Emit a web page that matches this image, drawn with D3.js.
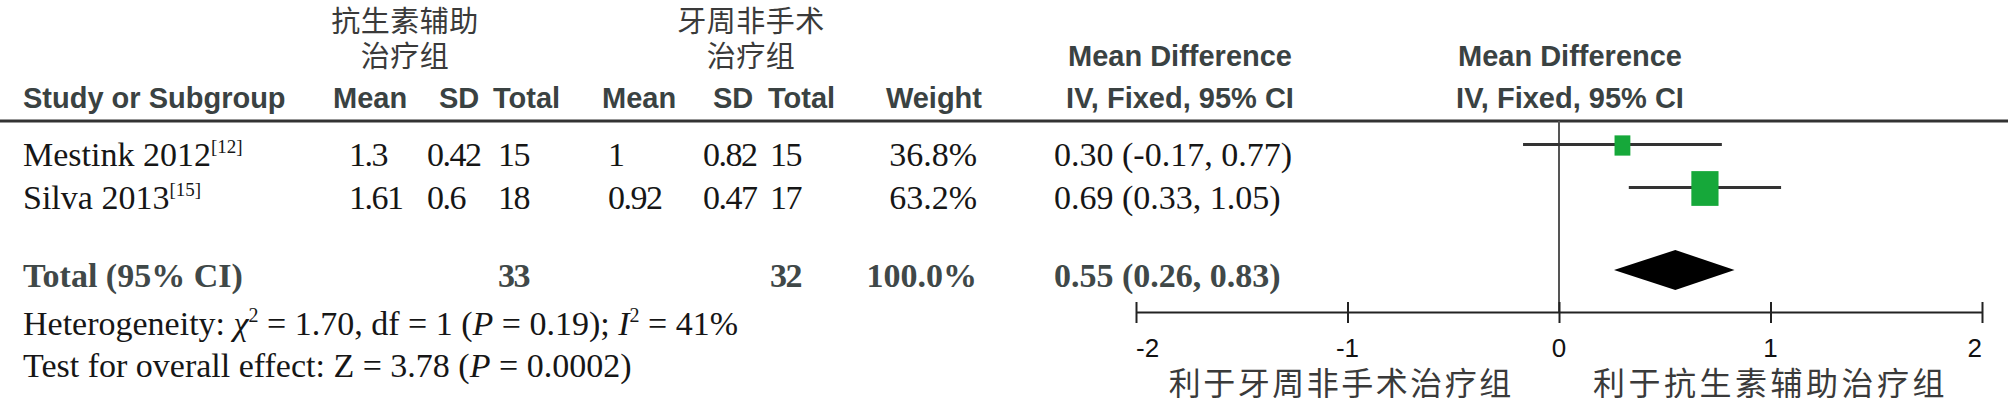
<!DOCTYPE html>
<html lang="zh">
<head>
<meta charset="utf-8">
<title>Forest plot</title>
<script src="https://cdn.jsdelivr.net/npm/d3@7"></script>
<style>
  body { margin: 0; background: #fff; }
  .hd { font-family: "Liberation Sans", Arial, sans-serif; font-weight: bold; font-size: 29px; fill: #3a4242; }
  .cn { font-family: "Noto Sans CJK SC", sans-serif; fill: #3a3a3a; }
  .bd { font-family: "Liberation Serif", "Times New Roman", serif; font-size: 34px; fill: #161616; }
  .num { letter-spacing: -1.5px; }
  .tot { font-weight: bold; fill: #404848; }
  .tl { font-family: "Liberation Sans", Arial, sans-serif; font-size: 26px; fill: #111; }
</style>
</head>
<body>
<script>
// study rows
var studies = ["Mestink 2012", "Silva 2013"];
var refs = ["[12]", "[15]"];
var expMean = [1.3, 1.61];
var expSD = [0.42, 0.6];
var expN = [15, 18];
var ctlMean = [1, 0.92];
var ctlSD = [0.82, 0.47];
var ctlN = [15, 17];
var weights = [36.8, 63.2];
var md = [0.30, 0.69];
var ciLow = [-0.17, 0.33];
var ciHigh = [0.77, 1.05];

// pooled
var totalN = [33, 32];
var totalMD = 0.55, totalLow = 0.26, totalHigh = 0.83;

var xTicks = [-2, -1, 0, 1, 2];
var xTickLabels = ["-2", "-1", "0", "1", "2"];
var favLeft = "利于牙周非手术治疗组";
var favRight = "利于抗生素辅助治疗组";

var w = 2008, h = 398;

var svg = d3.select("body").append("svg")
  .attr("width", w)
  .attr("height", h);

var x = d3.scaleLinear().domain([-2, 2]).range([1136, 1982]);
var rowY = d3.scaleLinear().domain([0, 1]).range([144.5, 187.5]);
var totalY = 270;
var axisY = 312;
var boxW = d3.scaleLinear().domain([0, 100]).range([0, 43]);
var boxH = d3.scaleLinear().domain([0, 100]).range([0, 55]);

function fmt2(v) { return d3.format(".2f")(v).replace("−", "-"); }
function ciText(m, lo, hi) { return fmt2(m) + " (" + fmt2(lo) + ", " + fmt2(hi) + ")"; }

// ---- header ----
var cnHead = [
  { t1: "抗生素辅助", t2: "治疗组", cx: 405 },
  { t1: "牙周非手术", t2: "治疗组", cx: 751 }
];
cnHead.forEach(function(g) {
  svg.append("text").attr("class", "cn").attr("x", g.cx).attr("y", 32)
    .attr("text-anchor", "middle").attr("font-size", 29).attr("letter-spacing", 0.5).text(g.t1);
  svg.append("text").attr("class", "cn").attr("x", g.cx).attr("y", 67)
    .attr("text-anchor", "middle").attr("font-size", 29).attr("letter-spacing", 0.5).text(g.t2);
});

var hdRow = [
  ["Study or Subgroup", 23, "start"],
  ["Mean", 333, "start"], ["SD", 439, "start"], ["Total", 493, "start"],
  ["Mean", 602, "start"], ["SD", 713, "start"], ["Total", 768, "start"],
  ["Weight", 982, "end"],
  ["IV, Fixed, 95% CI", 1180, "middle"],
  ["IV, Fixed, 95% CI", 1570, "middle"]
];
hdRow.forEach(function(d) {
  svg.append("text").attr("class", "hd").attr("x", d[1]).attr("y", 108)
    .attr("text-anchor", d[2]).text(d[0]);
});
[1180, 1570].forEach(function(cx) {
  svg.append("text").attr("class", "hd").attr("x", cx).attr("y", 66)
    .attr("text-anchor", "middle").text("Mean Difference");
});

svg.append("line").attr("x1", 0).attr("x2", w).attr("y1", 121).attr("y2", 121)
  .attr("stroke", "#333").attr("stroke-width", 3);

// ---- study rows ----
var colX = { mean1: 349, sd1: 427, n1: 498, mean2: 608, sd2: 703, n2: 770, weight: 977, ci: 1054 };

studies.forEach(function(s, i) {
  var by = rowY(i) + 21.5;
  var t = svg.append("text").attr("class", "bd").attr("x", 23).attr("y", by).text(s);
  t.append("tspan").attr("font-size", 19).attr("dy", -13).text(refs[i]);

  var cells = [
    [expMean[i], colX.mean1], [expSD[i], colX.sd1], [expN[i], colX.n1],
    [ctlMean[i], colX.mean2], [ctlSD[i], colX.sd2], [ctlN[i], colX.n2]
  ];
  cells.forEach(function(c) {
    svg.append("text").attr("class", "bd num").attr("x", c[1]).attr("y", by).text(c[0]);
  });
  svg.append("text").attr("class", "bd").attr("x", colX.weight).attr("y", by)
    .attr("text-anchor", "end").text(weights[i].toFixed(1) + "%");
  svg.append("text").attr("class", "bd").attr("x", colX.ci).attr("y", by)
    .text(ciText(md[i], ciLow[i], ciHigh[i]));
});

// total row
var ty = totalY + 17;
svg.append("text").attr("class", "bd tot").attr("x", 23).attr("y", ty).text("Total (95% CI)");
svg.append("text").attr("class", "bd tot num").attr("x", colX.n1).attr("y", ty).text(totalN[0]);
svg.append("text").attr("class", "bd tot num").attr("x", colX.n2).attr("y", ty).text(totalN[1]);
svg.append("text").attr("class", "bd tot").attr("x", colX.weight).attr("y", ty)
  .attr("text-anchor", "end").text(d3.sum(weights).toFixed(1) + "%");
svg.append("text").attr("class", "bd tot").attr("x", colX.ci).attr("y", ty)
  .text(ciText(totalMD, totalLow, totalHigh));

// heterogeneity & overall effect
var het = svg.append("text").attr("class", "bd").attr("x", 23).attr("y", 335);
het.append("tspan").text("Heterogeneity: ");
het.append("tspan").attr("font-style", "italic").text("χ");
het.append("tspan").attr("font-size", 20).attr("dy", -13).text("2");
het.append("tspan").attr("dy", 13).text(" = 1.70, df = 1 (");
het.append("tspan").attr("font-style", "italic").text("P");
het.append("tspan").text(" = 0.19); ");
het.append("tspan").attr("font-style", "italic").text("I");
het.append("tspan").attr("font-size", 20).attr("dy", -13).text("2");
het.append("tspan").attr("dy", 13).text(" = 41%");

var ovr = svg.append("text").attr("class", "bd").attr("x", 23).attr("y", 377);
ovr.append("tspan").text("Test for overall effect: Z = 3.78 (");
ovr.append("tspan").attr("font-style", "italic").text("P");
ovr.append("tspan").text(" = 0.0002)");

// ---- plot ----
svg.append("line").attr("x1", x(0)).attr("x2", x(0)).attr("y1", 121).attr("y2", axisY)
  .attr("stroke", "#555").attr("stroke-width", 2);

var g = svg.append("g");
g.selectAll("line.ci").data(studies).enter().append("line").attr("class", "ci")
  .attr("x1", function(d, i) { return x(ciLow[i]); })
  .attr("x2", function(d, i) { return x(ciHigh[i]); })
  .attr("y1", function(d, i) { return rowY(i); })
  .attr("y2", function(d, i) { return rowY(i); })
  .attr("stroke", "#333").attr("stroke-width", 3);

g.selectAll("rect").data(studies).enter().append("rect")
  .attr("x", function(d, i) { return x(md[i]) - boxW(weights[i]) / 2; })
  .attr("y", function(d, i) { return rowY(i) - boxH(weights[i]) / 2 + 1; })
  .attr("width", function(d, i) { return boxW(weights[i]); })
  .attr("height", function(d, i) { return boxH(weights[i]); })
  .attr("fill", "#16a83a");

var dh = 20;
g.append("path")
  .attr("d", "M" + x(totalLow) + "," + totalY + "L" + x(totalMD) + "," + (totalY - dh) +
    "L" + x(totalHigh) + "," + totalY + "L" + x(totalMD) + "," + (totalY + dh) + "Z")
  .attr("fill", "#000");

// axis: line + ticks from d3.axisBottom, labels drawn separately
var ax = svg.append("g").attr("transform", "translate(0," + axisY + ")")
  .call(d3.axisBottom(x).tickValues(xTicks).tickFormat("").tickSizeOuter(0));
ax.select(".domain").attr("stroke", "#222").attr("stroke-width", 2);
ax.selectAll(".tick line").attr("y1", -10).attr("y2", 11).attr("stroke", "#222").attr("stroke-width", 2);

svg.selectAll("text.tl").data(xTicks).enter().append("text")
  .attr("class", "tl")
  .attr("x", function(d) { return x(d); })
  .attr("y", axisY + 45)
  .attr("text-anchor", function(d, i) { return i === 0 ? "start" : (i === xTicks.length - 1 ? "end" : "middle"); })
  .text(function(d, i) { return xTickLabels[i]; });

svg.append("text").attr("class", "cn").attr("x", x(-1.03)).attr("y", 395)
  .attr("text-anchor", "middle").attr("font-size", 32).attr("letter-spacing", 2.5).text(favLeft);
svg.append("text").attr("class", "cn").attr("x", x(1.0)).attr("y", 395)
  .attr("text-anchor", "middle").attr("font-size", 32).attr("letter-spacing", 3.5).text(favRight);
</script>
</body>
</html>
